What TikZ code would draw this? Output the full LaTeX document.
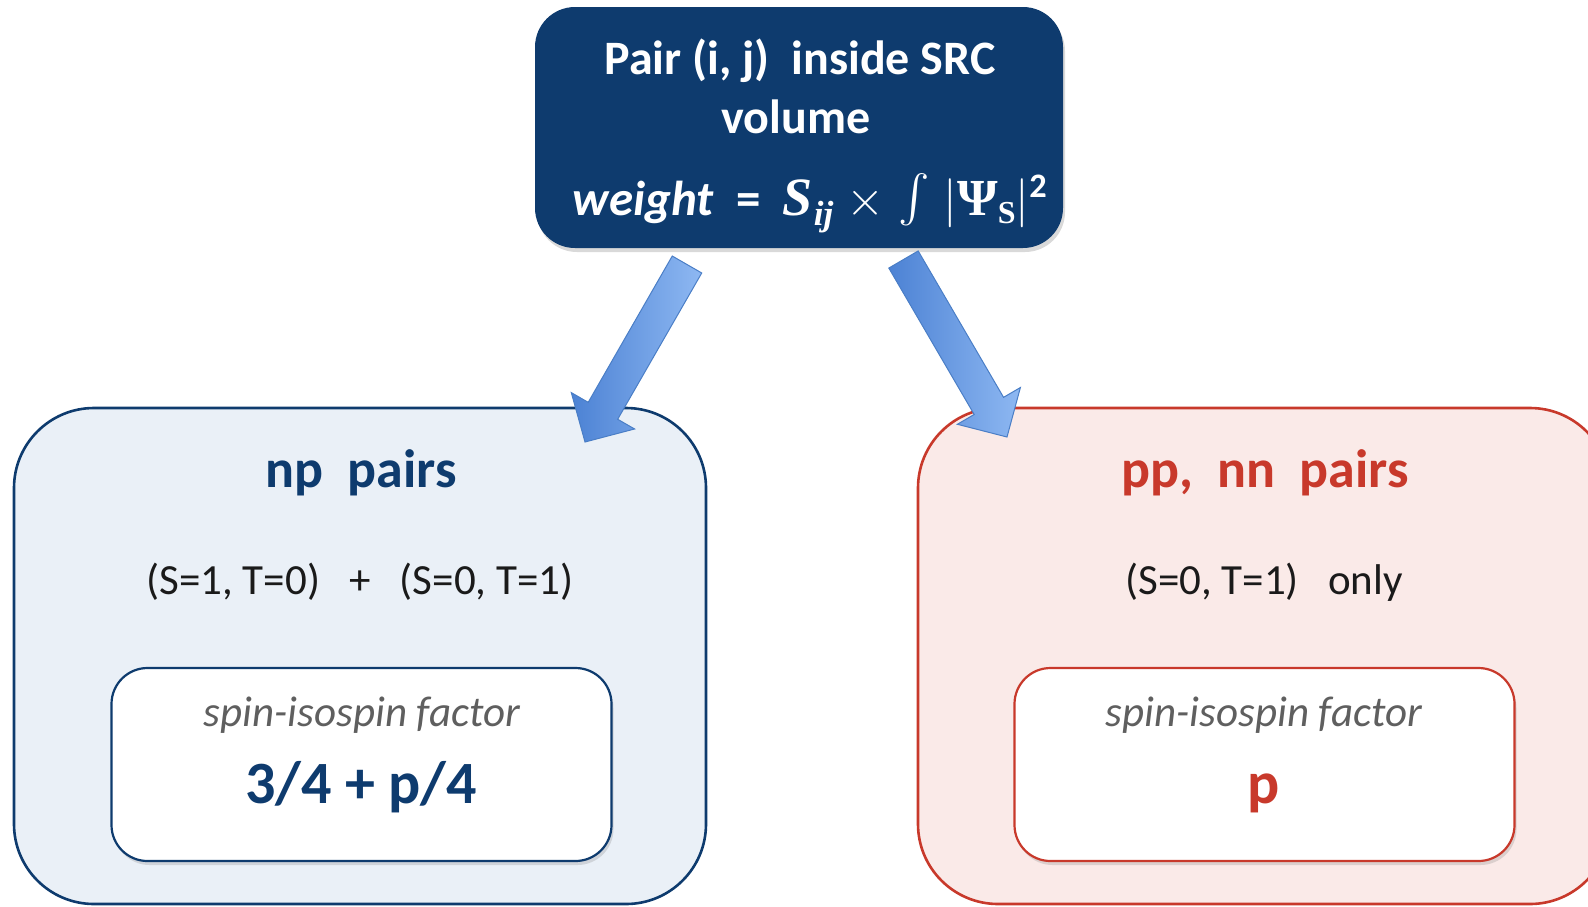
\RequirePackage{fix-cm}
\documentclass[tikz,border=0pt]{standalone}
\usepackage{amsmath,exscale}
\usepackage{fontspec}
\setmainfont{Carlito}
\newfontfamily\formulaserif{Liberation Serif}
\usetikzlibrary{positioning,calc,shadows}
\definecolor{navyblue}{RGB}{14,59,110}
\definecolor{npfill}{RGB}{234,240,247}
\definecolor{ppred}{RGB}{200,57,43}
\definecolor{ppfill}{RGB}{250,234,232}
\definecolor{factorgrey}{RGB}{95,95,95}
\definecolor{statesblack}{RGB}{26,26,26}
\definecolor{arrowdark}{RGB}{76,130,212}
\definecolor{arrowlight}{RGB}{142,184,242}
\definecolor{arrowedge}{RGB}{74,126,198}

% broad block arrow from tail coordinate #1 to tip coordinate #2
\newcommand{\fatarrow}[2]{%
  \coordinate (#1neck) at ($(#2)!36pt!(#1)$);
  \draw[fatarrow] ($(#1)!17pt!90:(#2)$) -- ($(#1neck)!17pt!90:(#2)$)
    -- ($(#1neck)!36.5pt!90:(#2)$) -- (#2)
    -- ($(#1neck)!36.5pt!-90:(#2)$) -- ($(#1neck)!17pt!-90:(#2)$)
    -- ($(#1)!17pt!-90:(#2)$) -- cycle;}
% pieces of the weight line
\newcommand{\bigint}{\raisebox{-8pt}{\scalebox{1.9}{$\int$}}}
\newcommand{\pairS}{{\formulaserif\bfseries\itshape\fontsize{54}{54}\selectfont S\kern1pt\raisebox{-10pt}{\fontsize{35}{35}\selectfont ij}}}
\newcommand{\wavePsi}{{\formulaserif\bfseries\fontsize{52}{52}\selectfont Ψ\raisebox{-8pt}{\fontsize{32}{32}\selectfont S}}}

\begin{document}
\begin{tikzpicture}[
        x=1pt, y=-1pt,
        outerbox/.style={rectangle, draw=#1, line width=2.6pt, rounded corners=80pt, minimum width=692pt, minimum height=496pt},
        innerbox/.style={rectangle, draw=#1, fill=white, line width=2.2pt, rounded corners=36pt, minimum width=500pt, minimum height=193pt,
            drop shadow={shadow xshift=2pt, shadow yshift=-4pt, opacity=0.25}},
        topbox/.style={rectangle, fill=navyblue, rounded corners=40pt, minimum width=528pt, minimum height=241pt,
            drop shadow={shadow xshift=2pt, shadow yshift=-4pt, opacity=0.3}},
        toptext/.style={anchor=base, text=white, font=\fontsize{48}{54}\selectfont\bfseries},
        heading/.style={anchor=base, font=\fontsize{54}{60}\selectfont\bfseries, text=#1},
        statetext/.style={anchor=base, text=statesblack, font=\fontsize{43}{50}\selectfont},
        factorlabel/.style={anchor=base, font=\fontsize{43}{50}\selectfont\itshape, text=factorgrey},
        factorvalue/.style={anchor=base, font=\fontsize{60}{68}\selectfont\bfseries, text=#1},
        fatarrow/.style={draw=arrowedge, line width=1pt, left color=arrowdark, right color=arrowlight, line join=miter}
    ]
        \useasboundingbox (0,0) rectangle (1588,906);

        % source pair box
        \node[topbox] (src) at (799,127.5) {};
        \node[toptext] (srctitle) at (800,74) {Pair (i, j)~~inside SRC};
        \node[toptext] (srcvolume) at (796,133) {volume};
        \node[anchor=base, text=white, font=\fontsize{49}{54}\selectfont] (srcweight) at (810,215)
            {\textbf{\textit{weight}}~~\textbf{=}~~\pairS$\;\times\;$\bigint$\;|$\wavePsi$|^{\mathbf{2}}$};

        % np pairs
        \node[outerbox=navyblue, fill=npfill] (np) at (360,656) {};
        \node[heading=navyblue] (nptitle) at (361,487) {np~~pairs};
        \node[statetext] (npstates) at (360,594) {(S=1, T=0)~~~+~~~(S=0, T=1)};
        \node[innerbox=navyblue] (npfactor) at (361.5,764.5) {};
        \node[factorlabel] (nplabel) at (362,726) {spin-isospin factor};
        \node[factorvalue=navyblue] (npvalue) at (361,803) {3/4 + p/4};

        % pp, nn pairs
        \node[outerbox=ppred, fill=ppfill] (pp) at (1264,656) {};
        \node[heading=ppred] (pptitle) at (1265,487) {pp,~~nn~~pairs};
        \node[statetext] (ppstates) at (1264,594) {(S=0, T=1)~~~only};
        \node[innerbox=ppred] (ppfactor) at (1264.5,764.5) {};
        \node[factorlabel] (pplabel) at (1264,726) {spin-isospin factor};
        \node[factorvalue=ppred] (ppvalue) at (1264,803) {p};

        % arrows
        \coordinate (leftail) at (687,264.5);
        \coordinate (leftip) at (585,442);
        \coordinate (rightail) at (903.5,259.5);
        \coordinate (rightip) at (1007,437);
        \fatarrow{leftail}{leftip}
        \fatarrow{rightail}{rightip}
    \end{tikzpicture}
\end{document}
